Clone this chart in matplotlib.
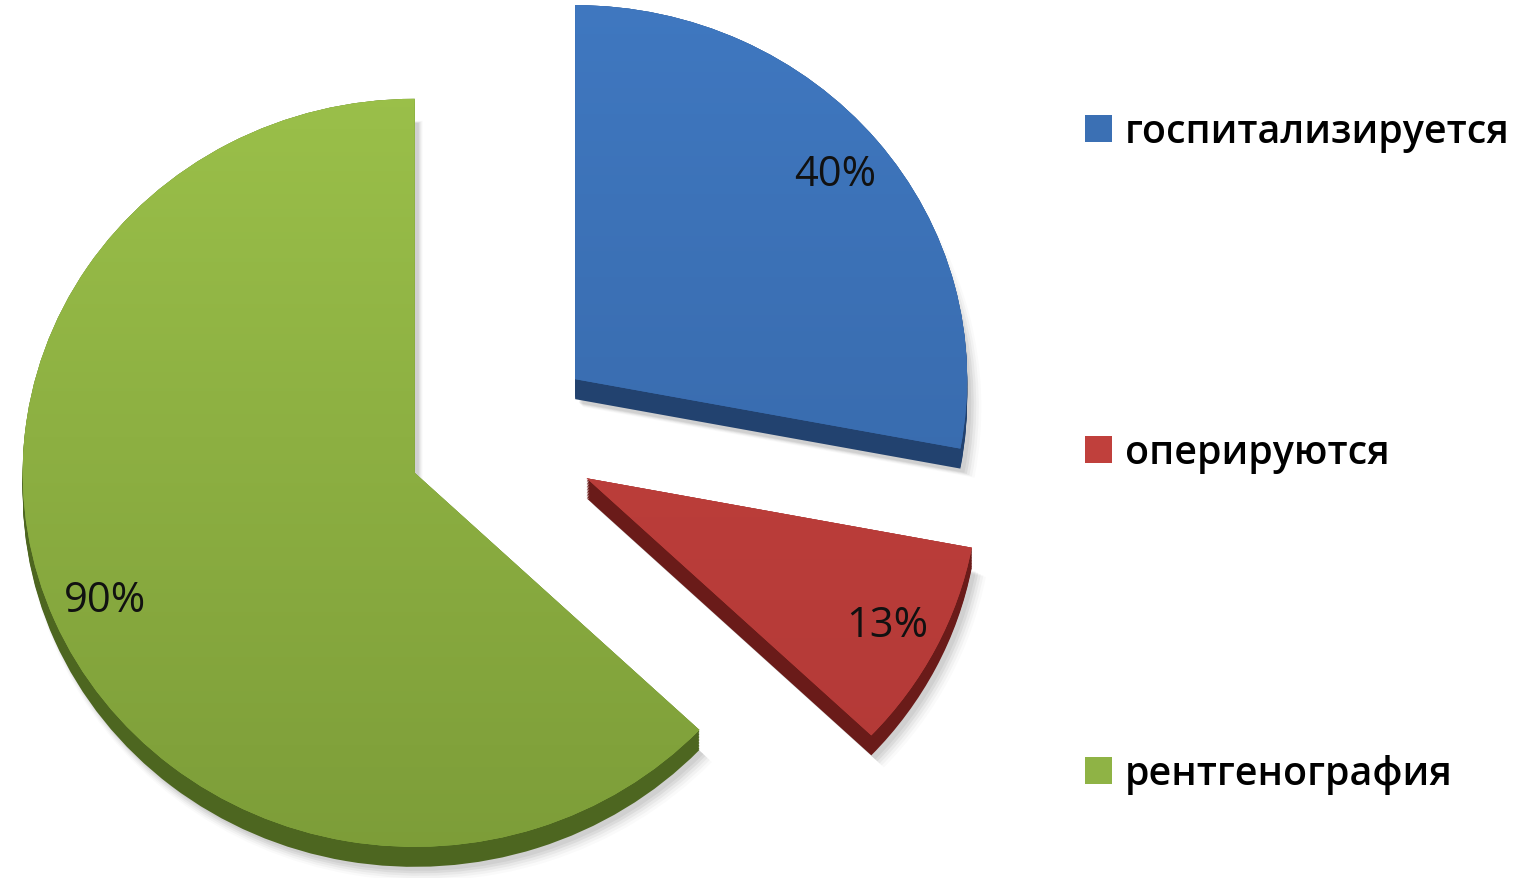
import numpy as np
import matplotlib
matplotlib.use("Agg")
import matplotlib.pyplot as plt
from matplotlib.colors import LinearSegmentedColormap

plt.rcParams['font.family'] = ['Open Sans', 'DejaVu Sans']

categories = ['госпитализируется', 'оперируются', 'рентгенография']
values = [40, 13, 90]

face_top = ['#4079c2', '#c8443f', '#a0c64d']
face_bottom = ['#33619e', '#b03836', '#7a9a37']
face_mid = ['#3b70b4', '#c0403c', '#8fb345']
side_colors = ['#22426f', '#6a1b19', '#4d6620']

# pixel geometry of the tilted pie
W, H = 1518, 879
RX, RY = 392, 374
CX, CY = 502, 438
depth = 20 / RY
explode = [0.2424] * 3

fig = plt.figure(figsize=(W / 100, H / 100), dpi=100)
ax = fig.add_axes([0, 0, 1, 1])

xlim = (-CX / RX, (W - CX) / RX)
ylim = ((CY - H) / RY, CY / RY)

# soft drop shadow
for k, a in zip(range(5), [0.05, 0.05, 0.04, 0.03, 0.02]):
    sw, _ = ax.pie(values, explode=explode, startangle=90, counterclock=False,
                   radius=1.0 + 0.004 * k,
                   center=((4 + k) / RX, -(depth + (4 + k) / RY)),
                   colors=['#000000'] * 3)
    for w in sw:
        w.set_alpha(a)
        w.set_zorder(0.2)

# slice thickness
for off in np.linspace(0, depth, 14):
    sw, _ = ax.pie(values, explode=explode, startangle=90, counterclock=False,
                   center=(0, -off), colors=side_colors)
    for w in sw:
        w.set_zorder(0.5)

# top faces
wedges, texts, autotexts = ax.pie(
    values, explode=explode, startangle=90, counterclock=False,
    colors=face_mid,
    autopct=lambda p: f"{p * sum(values) / 100:.0f}%",
    pctdistance=0.86,
    textprops=dict(fontsize=30, color='#111111'))

grad = np.linspace(0, 1, 256).reshape(-1, 1)
for w, c0, c1 in zip(wedges, face_top, face_bottom):
    w.set_zorder(1)
    cmap = LinearSegmentedColormap.from_list('g', [c0, c1])
    im = ax.imshow(grad, cmap=cmap, aspect='auto',
                   extent=(xlim[0], xlim[1], -1.3, 1.3), origin='upper',
                   zorder=1.5)
    im.set_clip_path(w)

for t in autotexts:
    t.set_zorder(3)

ax.set_aspect('auto')
ax.set_xlim(*xlim)
ax.set_ylim(*ylim)
ax.axis('off')

leg = fig.legend(wedges, categories, loc='upper left',
                 bbox_to_anchor=(1085 / W, 1 - 113 / H),
                 frameon=False, fontsize=28.4,
                 handlelength=0.68, handleheight=0.68, handletextpad=0.33,
                 labelspacing=7.13, borderpad=0, borderaxespad=0)
for txt in leg.get_texts():
    txt.set_fontweight('semibold')

fig.savefig('out.png', dpi=100, facecolor='white')
